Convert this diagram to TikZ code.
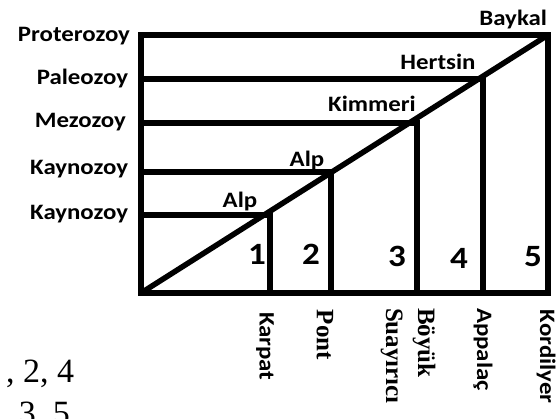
\documentclass[tikz,border=0pt]{standalone}
\usepackage{fontspec}
\usepackage{tikz}
\newfontfamily\carlito[FakeStretch=1.13]{Carlito}
\newfontfamily\tnr{Liberation Serif}

\begin{document}
\begin{tikzpicture}[x=1pt,y=1pt,line width=5.5pt,
    every node/.style={inner sep=0pt, outer sep=0pt},
    era/.style={font=\carlito\bfseries\fontsize{22}{26}\selectfont},
    num/.style={font=\carlito\bfseries\fontsize{31}{34}\selectfont},
    belt/.style={rotate=-90, anchor=west, font=\carlito\bfseries\fontsize{22}{26}\selectfont},
    beltt/.style={rotate=-90, anchor=west, align=left, font=\tnr\bfseries\fontsize{25}{32}\selectfont},
    qtext/.style={anchor=base west, font=\tnr\fontsize{34}{38}\selectfont}]
    \useasboundingbox (0,0) rectangle (557,418);
    \coordinate (bl) at (141,125);
    \coordinate (tr) at (548,383);
    \coordinate (c1) at (270,203);
    \coordinate (c2) at (331,246);
    \coordinate (c3) at (417,295);
    \coordinate (c4) at (483,339);
    \draw[line join=miter] (bl) rectangle (tr);
    \draw (bl) -- (tr);
    \draw (c1 -| bl) -- (c1) -- (c1 |- bl);
    \draw (c2 -| bl) -- (c2) -- (c2 |- bl);
    \draw (c3 -| bl) -- (c3) -- (c3 |- bl);
    \draw (c4 -| bl) -- (c4) -- (c4 |- bl);
    \node[era, anchor=base east] (proterozoy) at (130,376) {Proterozoy};
    \node[era, anchor=base east] (paleozoy) at (128,333) {Paleozoy};
    \node[era, anchor=base east] (mezozoy) at (126,290) {Mezozoy};
    \node[era, anchor=base east] (kaynozoy1) at (128,243) {Kaynozoy};
    \node[era, anchor=base east] (kaynozoy2) at (128,198) {Kaynozoy};
    \node[era, anchor=base] (alp1) at (240,210) {Alp};
    \node[era, anchor=base] (alp2) at (307,251) {Alp};
    \node[era, anchor=base] (kimmeri) at (372,306) {Kimmeri};
    \node[era, anchor=base] (hertsin) at (438,348) {Hertsin};
    \node[era, anchor=base east] (baykal) at (547,392) {Baykal};
    \node[num, anchor=base] (n1) at (257,153) {1};
    \node[num, anchor=base] (n2) at (311,153) {2};
    \node[num, anchor=base] (n3) at (397,151) {3};
    \node[num, anchor=base] (n4) at (459,149) {4};
    \node[num, anchor=base] (n5) at (533,151) {5};
    \node[belt] (karpat) at (265,106) {Karpat};
    \node[beltt] (pont) at (325,108) {Pont};
    \node[beltt] (boyuk) at (408,110) {Böyük\\Suayırıcı};
    \node[belt] (appalac) at (483,110) {Appalaç};
    \node[belt] (kordilyer) at (546,108) {Kordilyer};
    \node[qtext] (q1) at (6,36) {, 2, 4};
    \node[qtext] (q2) at (19,-6) {3, 5};
\end{tikzpicture}
\end{document}
